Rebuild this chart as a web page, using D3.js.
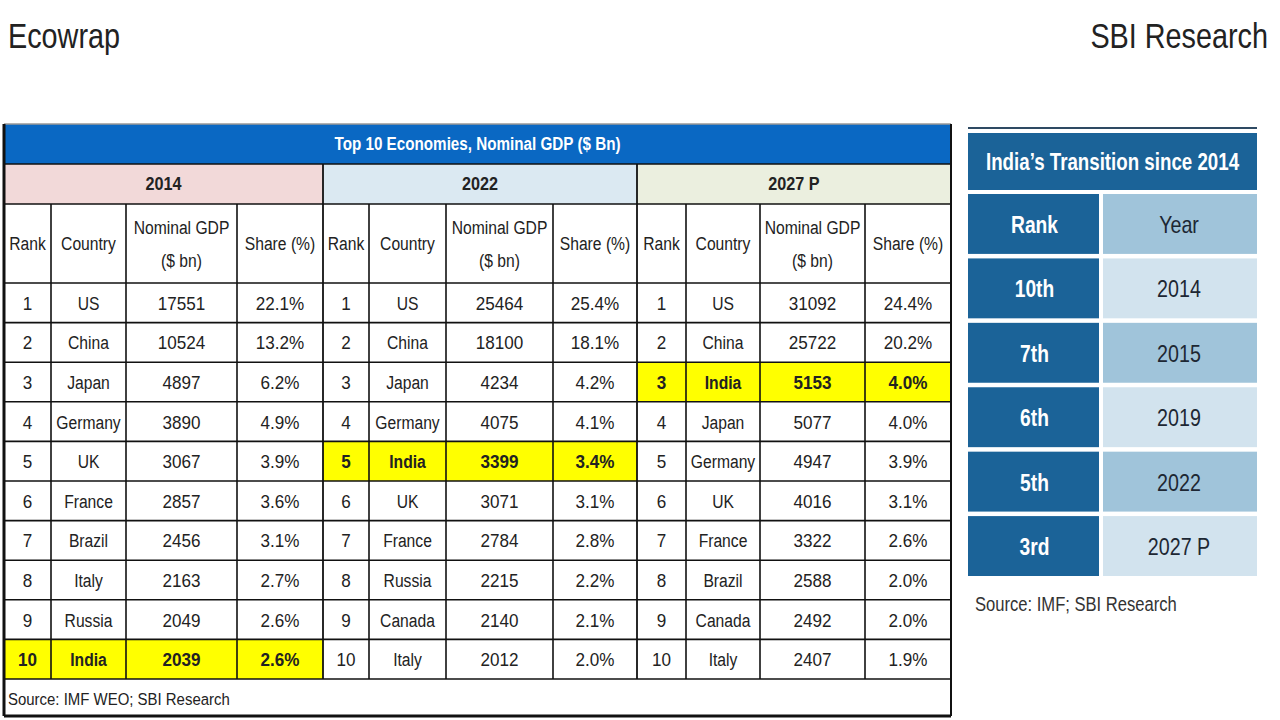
<!DOCTYPE html>
<html><head><meta charset="utf-8">
<script src="https://cdn.jsdelivr.net/npm/d3@7"></script>
<style>
html,body{margin:0;padding:0;background:#fff;}
svg{display:block;}
text{font-family:"Liberation Sans Narrow","Liberation Sans",Arial,sans-serif;}
</style></head>
<body>
<svg id="chart" width="1280" height="720"></svg>
<script>
// ---------- DATA ----------
const ranks = [1,2,3,4,5,6,7,8,9,10];
const countries2014 = ["US","China","Japan","Germany","UK","France","Brazil","Italy","Russia","India"];
const gdp2014 = [17551,10524,4897,3890,3067,2857,2456,2163,2049,2039];
const share2014 = [22.1,13.2,6.2,4.9,3.9,3.6,3.1,2.7,2.6,2.6];
const countries2022 = ["US","China","Japan","Germany","India","UK","France","Russia","Canada","Italy"];
const gdp2022 = [25464,18100,4234,4075,3399,3071,2784,2215,2140,2012];
const share2022 = [25.4,18.1,4.2,4.1,3.4,3.1,2.8,2.2,2.1,2.0];
const countries2027 = ["US","China","India","Japan","Germany","UK","France","Brazil","Canada","Italy"];
const gdp2027 = [31092,25722,5153,5077,4947,4016,3322,2588,2492,2407];
const share2027 = [24.4,20.2,4.0,4.0,3.9,3.1,2.6,2.0,2.0,1.9];
const periods = ["2014","2022","2027 P"];
const columnHeaders = ["Rank","Country","Nominal GDP|($ bn)","Share (%)"];
const transitionRanks = ["10th","7th","6th","5th","3rd"];
const transitionYears = ["2014","2015","2019","2022","2027 P"];
const highlightCountry = "India";

// ---------- HELPERS ----------
const svg = d3.select("#chart");
// condensed text: horizontally scaled to emulate a narrow (Calibri-like) face
function T(parent, x, y, str, size, o={}){
  return parent.append("text")
    .attr("transform", `translate(${x},${y}) scale(${o.sx||0.85},1)`)
    .attr("text-anchor", o.anchor||"middle")
    .attr("font-size", size)
    .attr("font-weight", o.bold?"bold":"normal")
    .attr("fill", o.fill||"#222")
    .text(str);
}

T(svg, 8, 48, "Ecowrap", 36, {anchor:"start", sx:0.8});
T(svg, 1268, 48, "SBI Research", 36, {anchor:"end", sx:0.8});

const sections = [
  {period:periods[0], bg:"#f2d9d9", countries:countries2014, gdp:gdp2014, share:share2014},
  {period:periods[1], bg:"#dbe9f2", countries:countries2022, gdp:gdp2022, share:share2022},
  {period:periods[2], bg:"#ebefdf", countries:countries2027, gdp:gdp2027, share:share2027}
];
const colEdges = [[4,51,126,237,323],[323,369,446,553,637],[637,686,760,865,951]];
const L = 4, R = 951;
const titleY0 = 124, titleY1 = 164, yearY1 = 204, headY1 = 283;
const rowScale = d3.scaleBand().domain(d3.range(ranks.length)).range([headY1, 679]).padding(0);
const srcY1 = 716;
const FS = 18, SX = 0.87, SXN = 0.95;

const g = svg.append("g");
g.append("rect").attr("x",L).attr("y",titleY0).attr("width",R-L).attr("height",titleY1-titleY0).attr("fill","#0a68c3");
T(g, (L+R)/2, (titleY0+titleY1)/2+6, "Top 10 Economies, Nominal GDP ($ Bn)", 17.5, {bold:true, fill:"#fff", sx:0.87});

sections.forEach((s,si)=>{
  const e = colEdges[si];
  g.append("rect").attr("x",e[0]).attr("y",titleY1).attr("width",e[4]-e[0]).attr("height",yearY1-titleY1).attr("fill",s.bg);
  T(g, (e[0]+e[4])/2, (titleY1+yearY1)/2+6, s.period, 18, {bold:true, sx:0.9});
  columnHeaders.forEach((h,ci)=>{
    const cx = (e[ci]+e[ci+1])/2;
    const parts = h.split("|");
    if(parts.length===1){
      T(g, cx, (yearY1+headY1)/2+6, parts[0], FS, {sx:SX});
    } else {
      T(g, cx, (yearY1+headY1)/2-10, parts[0], FS, {sx:SX});
      T(g, cx, (yearY1+headY1)/2+23, parts[1], FS, {sx:SX});
    }
  });
  ranks.forEach((rk,ri)=>{
    const y0 = rowScale(ri), h = rowScale.bandwidth();
    const hl = s.countries[ri]===highlightCountry;
    if(hl){
      g.append("rect").attr("x",e[0]).attr("y",y0).attr("width",e[4]-e[0]).attr("height",h).attr("fill","#ffff00");
    }
    const vals = [String(rk), s.countries[ri], String(s.gdp[ri]), s.share[ri].toFixed(1)+"%"];
    vals.forEach((v,ci)=>{
      T(g, (e[ci]+e[ci+1])/2, y0+h/2+7, v, FS, {bold:hl, sx: ci===1 ? SX : SXN});
    });
  });
  for(let ci=1;ci<4;ci++){
    g.append("line").attr("x1",e[ci]).attr("x2",e[ci]).attr("y1",yearY1).attr("y2",rowScale.range()[1])
      .attr("stroke","#111").attr("stroke-width",1.6);
  }
});
[323,637].forEach(x=>{
  g.append("line").attr("x1",x).attr("x2",x).attr("y1",titleY1).attr("y2",rowScale.range()[1])
    .attr("stroke","#111").attr("stroke-width",1.8);
});
const hLines = [titleY1, yearY1, headY1].concat(ranks.map((r,i)=>rowScale(i)+rowScale.bandwidth()));
hLines.forEach(y=>{
  g.append("line").attr("x1",L).attr("x2",R).attr("y1",y).attr("y2",y).attr("stroke","#111").attr("stroke-width",1.6);
});
T(g, 8, 705, "Source: IMF WEO; SBI Research", 17, {anchor:"start", sx:0.88});
g.append("line").attr("x1",L).attr("x2",R).attr("y1",titleY0).attr("y2",titleY0).attr("stroke","#999").attr("stroke-width",1.5);
g.append("line").attr("x1",L).attr("x2",L).attr("y1",titleY0).attr("y2",srcY1).attr("stroke","#111").attr("stroke-width",3);
g.append("line").attr("x1",R).attr("x2",R).attr("y1",titleY0).attr("y2",srcY1).attr("stroke","#111").attr("stroke-width",2);
g.append("line").attr("x1",L).attr("x2",R).attr("y1",srcY1).attr("y2",srcY1).attr("stroke","#111").attr("stroke-width",3);

// ---------- RIGHT PANEL ----------
const p = svg.append("g");
const PL = 968, PR = 1257, PM = 1101, gap = 4;
p.append("line").attr("x1",PL).attr("x2",PR).attr("y1",128).attr("y2",128).attr("stroke","#2e4a63").attr("stroke-width",2);
p.append("rect").attr("x",PL).attr("y",133).attr("width",PR-PL).attr("height",57).attr("fill","#1b6398");
T(p, (PL+PR)/2, 170, "India\u2019s Transition since 2014", 24, {bold:true, fill:"#fff", sx:0.78});
const pRows = d3.scaleBand().domain(d3.range(transitionRanks.length+1)).range([194, 576]).paddingInner(0.07);
const rowsData = [{rank:"Rank", year:"Year"}].concat(transitionRanks.map((r,i)=>({rank:r, year:transitionYears[i]})));
rowsData.forEach((d,i)=>{
  const y0 = pRows(i), h = pRows.bandwidth();
  p.append("rect").attr("x",PL).attr("y",y0).attr("width",PM-PL-gap/2).attr("height",h).attr("fill","#1b6398");
  p.append("rect").attr("x",PM+gap/2).attr("y",y0).attr("width",PR-PM-gap/2).attr("height",h)
    .attr("fill", i%2===0 ? "#a0c4da" : "#d2e3ee");
  T(p, (PL+PM)/2, y0+h/2+9, d.rank, 24, {bold:true, fill:"#fff", sx:0.8});
  T(p, (PM+PR)/2, y0+h/2+9, d.year, 24, {fill:"#1d2733", sx:0.82});
});
T(p, 975, 611, "Source: IMF; SBI Research", 21, {anchor:"start", fill:"#333", sx:0.79});
</script>
</body></html>
